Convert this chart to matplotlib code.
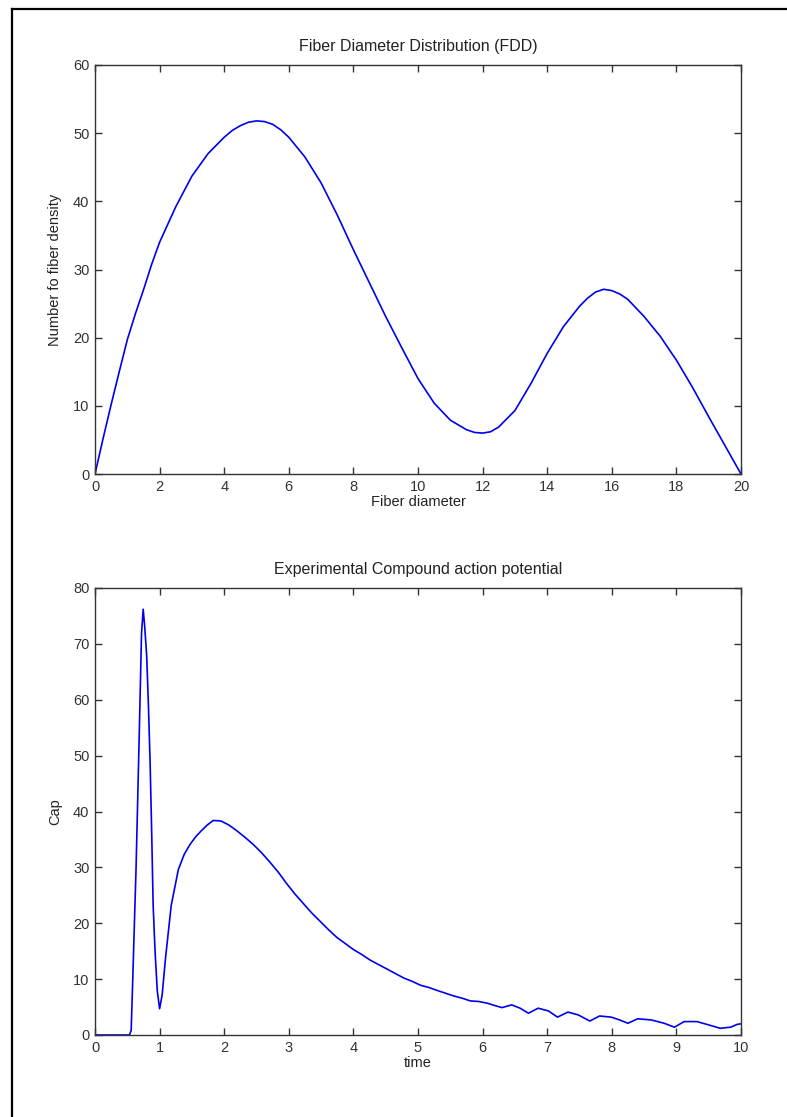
import matplotlib
matplotlib.use("Agg")
import matplotlib.pyplot as plt
from matplotlib.lines import Line2D

# Fiber diameter distribution
diameter = [0, 0.25, 0.5, 0.75, 1, 1.25, 1.5, 1.75, 2, 2.5, 3, 3.5, 4, 4.25, 4.5, 4.75,
            5, 5.25, 5.5, 5.75, 6, 6.5, 7, 7.5, 8, 8.5, 9, 9.5, 10, 10.5, 11, 11.5, 11.75,
            12, 12.25, 12.5, 13, 13.5, 14, 14.5, 15, 15.25, 15.5, 15.75, 16, 16.25, 16.5,
            17, 17.5, 18, 18.5, 19, 19.5, 20]
density = [0, 5.2, 10.2, 15, 19.7, 23.5, 27, 30.7, 34, 39.2, 43.7, 47, 49.4, 50.4, 51.1,
           51.6, 51.8, 51.7, 51.3, 50.5, 49.4, 46.5, 42.7, 38, 32.9, 28, 23.1, 18.5, 14.0,
           10.4, 7.9, 6.5, 6.1, 6.0, 6.2, 6.9, 9.3, 13.3, 17.7, 21.6, 24.6, 25.8, 26.7,
           27.1, 26.9, 26.4, 25.6, 23.1, 20.2, 16.7, 12.7, 8.4, 4.2, 0]

# compound action potential
t = [0, 0.533, 0.56, 0.584, 0.61, 0.635, 0.66, 0.685, 0.70, 0.72, 0.746, 0.77, 0.80,
     0.827, 0.853, 0.878, 0.90, 0.93, 0.964, 1.0, 1.04, 1.09, 1.18, 1.29, 1.38, 1.47,
     1.56, 1.65, 1.74, 1.83, 1.95, 2.07, 2.19, 2.32, 2.45, 2.58, 2.71, 2.84, 2.96, 3.09,
     3.22, 3.35, 3.48, 3.61, 3.74, 3.87, 4.0, 4.13, 4.26, 4.39, 4.52, 4.65, 4.78, 4.91,
     5.04, 5.17, 5.29, 5.42, 5.55, 5.68, 5.81, 5.94, 6.07, 6.18, 6.30, 6.45, 6.58, 6.71,
     6.86, 7.02, 7.16, 7.32, 7.48, 7.66, 7.81, 7.99, 8.12, 8.25, 8.40, 8.61, 8.81, 8.97,
     9.12, 9.32, 9.53, 9.68, 9.84, 9.94, 10.0]
cap = [0, 0, 0.8, 9.8, 20, 29.6, 41.7, 53.9, 61.5, 71.8, 76.2, 73, 67.9, 59, 48.8, 36,
       23.2, 14.9, 7.9, 4.7, 7.2, 13.6, 23.2, 29.6, 32.3, 34.1, 35.5, 36.6, 37.6, 38.4,
       38.3, 37.6, 36.6, 35.4, 34.1, 32.6, 30.9, 29.1, 27.2, 25.3, 23.6, 21.9, 20.4, 18.9,
       17.5, 16.4, 15.3, 14.4, 13.4, 12.6, 11.8, 11.0, 10.2, 9.6, 8.9, 8.5, 8.0, 7.5, 7.0,
       6.6, 6.1, 6.0, 5.7, 5.3, 4.9, 5.4, 4.8, 3.9, 4.8, 4.3, 3.2, 4.1, 3.6, 2.5, 3.4, 3.2,
       2.7, 2.1, 2.9, 2.7, 2.1, 1.4, 2.4, 2.4, 1.7, 1.2, 1.4, 1.9, 2.0]

plt.rcParams['font.family'] = ['Liberation Sans', 'DejaVu Sans']
plt.rcParams['font.size'] = 10.5
gray = '#333333'
txt = '#222222'

fig = plt.figure(figsize=(7.87, 11.17), dpi=100)

def style(ax):
    for s in ax.spines.values():
        s.set_color(gray)
        s.set_linewidth(1.0)
    ax.tick_params(direction='in', length=5, width=1, color=gray, labelcolor=gray,
                   top=True, right=True, labelsize=10.5, pad=4)

# top plot
ax1 = fig.add_axes([95/787, 1 - 474/1117, 646/787, 409/1117])
ax1.plot(diameter, density, color='#0000ee', lw=1.2)
ax1.set_xlim(0, 20)
ax1.set_ylim(0, 60)
ax1.set_xticks(range(0, 21, 2))
ax1.set_yticks(range(0, 61, 10))
ax1.set_title('Fiber Diameter Distribution (FDD)', fontsize=11.5, color=txt, pad=10)
ax1.set_xlabel('Fiber diameter', labelpad=1, color=txt)
ax1.set_ylabel('Number fo fiber density', labelpad=8, color=txt)
style(ax1)

# bottom plot
ax2 = fig.add_axes([95/787, 1 - 1035/1117, 646/787, 447/1117])
ax2.plot(t, cap, color='#0000ee', lw=1.2)
ax2.set_xlim(0, 10)
ax2.set_ylim(0, 80)
ax2.set_xticks(range(0, 11))
ax2.set_yticks(range(0, 81, 10))
ax2.set_title('Experimental Compound action potential', fontsize=11.5, color=txt, pad=10)
ax2.set_xlabel('time', labelpad=1, color=txt)
ax2.set_ylabel('Cap', labelpad=8, color=txt)
style(ax2)

# outer frame (left and top edges)
fig.add_artist(Line2D([12/787, 12/787], [0, 1 - 9/1117], transform=fig.transFigure,
                      color='black', lw=1.6))
fig.add_artist(Line2D([12/787, 1], [1 - 9/1117, 1 - 9/1117], transform=fig.transFigure,
                      color='black', lw=1.6))

fig.savefig('out.png', dpi=100)
